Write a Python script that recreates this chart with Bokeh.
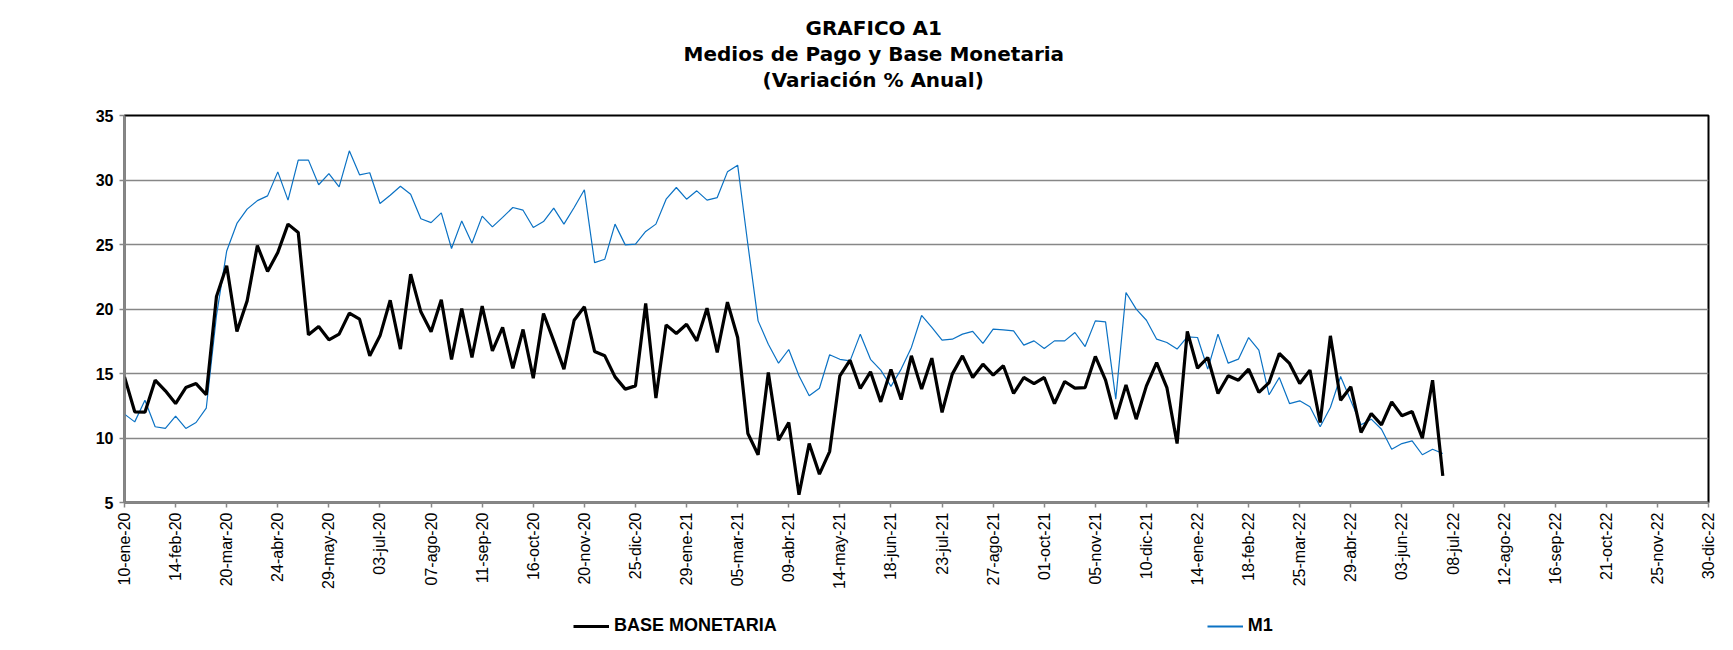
import math
from bokeh.plotting import figure
from bokeh.layouts import column
from bokeh.models import Range1d, FixedTicker, Legend, LegendItem, Title
from bokeh.embed import file_html
from bokeh.resources import INLINE

# weekly tick labels (every 5 weeks)
tick_labels = [
    "10-ene-20", "14-feb-20", "20-mar-20", "24-abr-20", "29-may-20", "03-jul-20",
    "07-ago-20", "11-sep-20", "16-oct-20", "20-nov-20", "25-dic-20", "29-ene-21",
    "05-mar-21", "09-abr-21", "14-may-21", "18-jun-21", "23-jul-21", "27-ago-21",
    "01-oct-21", "05-nov-21", "10-dic-21", "14-ene-22", "18-feb-22", "25-mar-22",
    "29-abr-22", "03-jun-22", "08-jul-22", "12-ago-22", "16-sep-22", "21-oct-22",
    "25-nov-22", "30-dic-22",
]
y_ticks = [5, 10, 15, 20, 25, 30, 35]
title_lines = ["GRAFICO A1", "Medios de Pago y Base Monetaria", "(Variación % Anual)"]
series_names = ["BASE MONETARIA", "M1"]

base_monetaria = [
    14.74, 12.03, 12.0, 14.48, 13.66, 12.67, 13.91, 14.22, 13.35, 20.97,
    23.35, 18.26, 20.63, 24.92, 22.91, 24.38, 26.58, 25.93, 18.0, 18.64,
    17.61, 18.05, 19.68, 19.21, 16.37, 17.92, 20.68, 16.89, 22.7, 19.78,
    18.23, 20.71, 16.09, 20.04, 16.24, 20.22, 16.76, 18.57, 15.39, 18.41,
    14.64, 19.65, 17.53, 15.34, 19.13, 20.17, 16.71, 16.37, 14.74, 13.79,
    14.04, 20.43, 13.09, 18.77, 18.1, 18.82, 17.53, 20.06, 16.63, 20.53,
    17.79, 10.35, 8.7, 15.08, 9.83, 11.2, 5.6, 9.57, 7.2, 8.95,
    14.82, 16.03, 13.84, 15.13, 12.8, 15.31, 12.98, 16.37, 13.79, 16.19,
    11.98, 14.95, 16.37, 14.69, 15.72, 14.87, 15.6, 13.45, 14.69, 14.22,
    14.69, 12.67, 14.38, 13.86, 13.91, 16.32, 14.48, 11.46, 14.12, 11.46,
    14.04, 15.85, 13.91, 9.57, 18.26, 15.41, 16.24, 13.45, 14.82, 14.48,
    15.34, 13.53, 14.3, 16.55, 15.78, 14.22, 15.26, 11.2, 17.92, 12.93,
    13.97, 10.43, 11.9, 11.02, 12.8, 11.72, 12.05, 9.99, 14.48, 7.07,
]

m1 = [
    11.85, 11.25, 12.93, 10.87, 10.74, 11.69, 10.74, 11.2, 12.31, 19.5,
    24.5, 26.63, 27.74, 28.4, 28.77, 30.63, 28.44, 31.54, 31.54, 29.63,
    30.5, 29.47, 32.26, 30.4, 30.56, 28.18, 28.82, 29.52, 28.9, 27.0,
    26.7, 27.45, 24.69, 26.83, 25.1, 27.2, 26.37, 27.1, 27.87, 27.66,
    26.32, 26.78, 27.82, 26.58, 27.87, 29.24, 23.6, 23.86, 26.58, 24.97,
    25.03, 26.01, 26.58, 28.51, 29.42, 28.51, 29.16, 28.44, 28.64, 30.63,
    31.15, 25.0, 19.08, 17.27, 15.8, 16.86, 14.82, 13.27, 13.86, 16.45,
    16.1, 15.98, 18.05, 16.1, 15.26, 14.0, 15.34, 17.02, 19.5, 18.57,
    17.58, 17.66, 18.05, 18.26, 17.33, 18.44, 18.38, 18.31, 17.2, 17.53,
    16.94, 17.53, 17.53, 18.18, 17.09, 19.08, 19.0, 13.01, 21.28, 19.99,
    19.13, 17.66, 17.4, 16.89, 17.84, 17.79, 15.34, 18.05, 15.8, 16.11,
    17.79, 16.81, 13.35, 14.69, 12.67, 12.88, 12.42, 10.87, 12.36, 14.77,
    12.88, 11.02, 11.46, 10.68, 9.13, 9.57, 9.78, 8.7, 9.13, 8.8,
]

weeks = list(range(len(base_monetaria)))
tick_pos = [i * 5 for i in range(len(tick_labels))]

FONT = "Liberation Sans"
TFONT = "DejaVu Sans"
GRAY = "#878787"
BLUE = "#0B72C4"

p = figure(
    width=1725, height=600, output_backend="svg", toolbar_location=None,
    x_range=Range1d(0, tick_pos[-1]), y_range=Range1d(y_ticks[0], y_ticks[-1]),
    min_border_left=124, min_border_right=17, min_border_top=115, min_border_bottom=98,
    background_fill_color="white", border_fill_color="white",
    title=None,
)

# title lines, centred over the page (left-aligned with offsets that centre each line)
title_offsets = [681, 559, 638]
title_texts = [title_lines[0], title_lines[1], title_lines[2] + "\n"]
for line, off in reversed(list(zip(title_texts, title_offsets))):
    t = Title(
        text=line, align="left", offset=off,
        text_font=TFONT, text_font_style="bold", text_font_size="20px",
        text_color="black", standoff=0,
    )
    p.add_layout(t, "above")

p.outline_line_color = "black"
p.outline_line_width = 2

p.xgrid.grid_line_color = None
p.ygrid.grid_line_color = GRAY
p.ygrid.grid_line_width = 1.4
p.ygrid.ticker = FixedTicker(ticks=y_ticks)

p.xaxis.ticker = FixedTicker(ticks=tick_pos)
p.xaxis.major_label_overrides = {pos: lab for pos, lab in zip(tick_pos, tick_labels)}
p.xaxis.major_label_orientation = math.pi / 2
p.xaxis.major_label_text_font = FONT
p.xaxis.major_label_text_font_size = "16px"
p.xaxis.major_label_text_color = "black"
p.xaxis.major_label_standoff = 5
p.xaxis.axis_line_color = GRAY
p.xaxis.axis_line_width = 2
p.xaxis.major_tick_line_color = GRAY
p.xaxis.major_tick_line_width = 1.5
p.xaxis.major_tick_out = 5
p.xaxis.major_tick_in = 0
p.xaxis.minor_tick_line_color = None

p.yaxis.ticker = FixedTicker(ticks=y_ticks)
p.yaxis.major_label_text_font = FONT
p.yaxis.major_label_text_font_style = "bold"
p.yaxis.major_label_text_font_size = "16px"
p.yaxis.major_label_text_color = "black"
p.yaxis.major_label_standoff = 6
p.yaxis.axis_line_color = GRAY
p.yaxis.axis_line_width = 2
p.yaxis.major_tick_line_color = GRAY
p.yaxis.major_tick_line_width = 1.5
p.yaxis.major_tick_out = 5
p.yaxis.major_tick_in = 0
p.yaxis.minor_tick_line_color = None

p.line(weeks, m1, line_color=BLUE, line_width=1.2)
p.line(weeks, base_monetaria, line_color="black", line_width=3.2)

# legend strip below the chart (its ranges keep the proxy series out of view)
lg = figure(
    width=1725, height=50, output_backend="svg", toolbar_location=None,
    x_range=Range1d(0, tick_pos[-1]), y_range=Range1d(-2, -1),
    x_axis_location=None, y_axis_location=None,
    min_border_left=0, min_border_right=0, min_border_top=0, min_border_bottom=0,
    outline_line_color=None, title=None,
)
lg.grid.visible = False
k_bm = lg.line(weeks, base_monetaria, line_color="black", line_width=3.2)
k_m1 = lg.line(weeks, m1, line_color=BLUE, line_width=2)

legend = Legend(
    items=[
        LegendItem(label=series_names[0], renderers=[k_bm]),
        LegendItem(label=series_names[1], renderers=[k_m1]),
    ],
    orientation="horizontal",
    location=(449, 14),
    spacing=430,
    glyph_width=36,
    glyph_height=20,
    label_height=20,
    label_standoff=5,
    padding=2,
    margin=0,
    border_line_color=None,
    background_fill_alpha=0,
    label_text_font=FONT,
    label_text_font_style="bold",
    label_text_font_size="18px",
    label_text_color="black",
)
lg.add_layout(legend, "center")

layout = column(p, lg, spacing=0)
open("out.html", "w").write(file_html(layout, INLINE))
